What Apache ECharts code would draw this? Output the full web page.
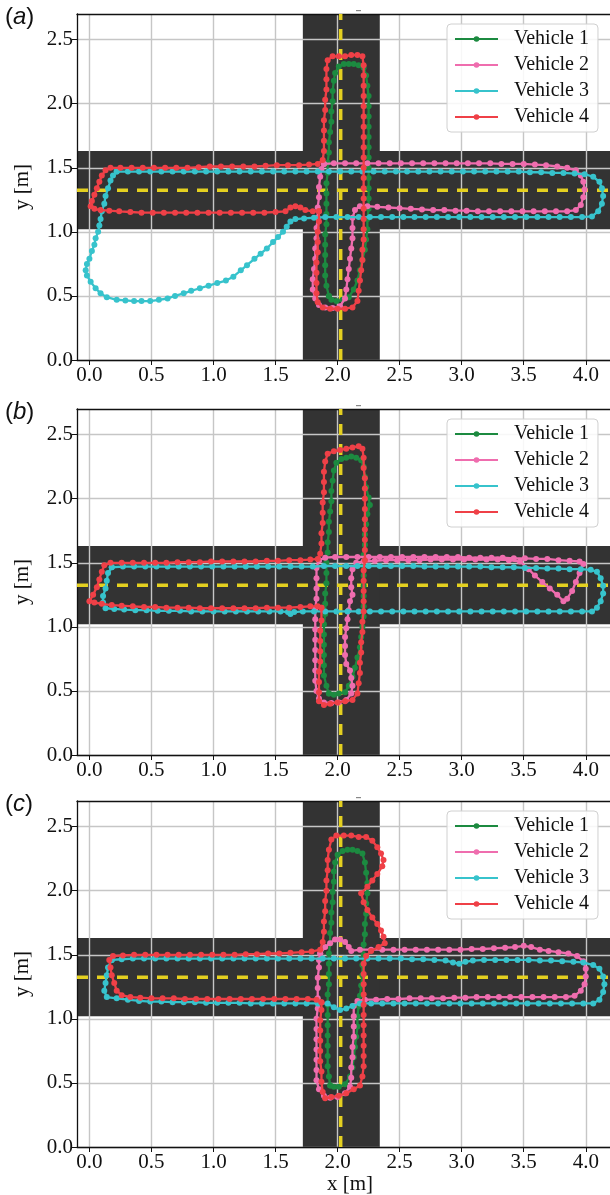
<!DOCTYPE html>
<html><head><meta charset="utf-8">
<script src="https://cdn.jsdelivr.net/npm/echarts@6/dist/echarts.min.js"></script>
<style>html,body{margin:0;padding:0;background:#fff}#c{width:610px;height:1195px}</style>
</head><body><div id="c"></div>
<script>
// ---------- axis ticks / road geometry ----------
const xTicks = [0, 0.5, 1.0, 1.5, 2.0, 2.5, 3.0, 3.5, 4.0];
const yTicks = [0, 0.5, 1.0, 1.5, 2.0, 2.5];
const roadHorizontalY = [1.02, 1.63];
const roadVerticalX = [1.72, 2.34];
const laneCenterY = 1.325;
const laneCenterX = 2.025;
const vehicleNames = ['Vehicle 1', 'Vehicle 2', 'Vehicle 3', 'Vehicle 4'];
const panelLetters = ['a', 'b', 'c'];

// ---------- panel (a) ----------
const v1a = [[1.93,0.50],[1.91,0.58],[1.90,0.66],[1.90,0.74],[1.90,0.82],[1.90,0.90],[1.90,0.98],[1.91,1.06],[1.91,1.14],[1.91,1.22],[1.91,1.30],[1.91,1.38],[1.92,1.46],[1.92,1.54],[1.93,1.62],[1.93,1.70],[1.94,1.78],[1.95,1.86],[1.95,1.94],[1.96,2.02],[1.96,2.10],[1.97,2.18],[1.98,2.24],[2.01,2.29],[2.05,2.31],[2.09,2.31],[2.13,2.31],[2.17,2.30],[2.21,2.28],[2.23,2.22],[2.24,2.14],[2.25,2.06],[2.25,1.98],[2.25,1.90],[2.25,1.82],[2.25,1.74],[2.25,1.66],[2.25,1.58],[2.25,1.50],[2.25,1.42],[2.25,1.34],[2.25,1.26],[2.25,1.18],[2.24,1.10],[2.24,1.02],[2.23,0.94],[2.22,0.86],[2.20,0.78],[2.18,0.70],[2.16,0.62],[2.13,0.55],[2.09,0.49],[2.04,0.47],[1.99,0.46],[1.95,0.47],[1.93,0.50]];
const v2a = [[1.89,1.53],[1.97,1.535],[2.06,1.535],[2.15,1.535],[2.24,1.535],[2.33,1.535],[2.42,1.535],[2.51,1.535],[2.60,1.535],[2.69,1.535],[2.78,1.535],[2.87,1.535],[2.96,1.535],[3.05,1.535],[3.14,1.535],[3.23,1.535],[3.32,1.53],[3.41,1.53],[3.50,1.53],[3.59,1.525],[3.68,1.52],[3.77,1.51],[3.85,1.50],[3.92,1.48],[3.96,1.44],[3.98,1.39],[3.99,1.33],[3.98,1.27],[3.96,1.21],[3.92,1.17],[3.85,1.16],[3.76,1.16],[3.67,1.16],[3.58,1.16],[3.49,1.16],[3.40,1.16],[3.31,1.16],[3.22,1.16],[3.13,1.16],[3.04,1.165],[2.95,1.165],[2.86,1.17],[2.77,1.17],[2.68,1.175],[2.59,1.18],[2.50,1.185],[2.41,1.19],[2.32,1.195],[2.24,1.20],[2.18,1.20],[2.14,1.17],[2.12,1.11],[2.12,1.03],[2.12,0.95],[2.11,0.87],[2.10,0.79],[2.09,0.71],[2.08,0.63],[2.07,0.55],[2.06,0.48],[2.02,0.42],[1.96,0.405],[1.90,0.41],[1.85,0.43],[1.82,0.48],[1.80,0.55],[1.80,0.63],[1.81,0.71],[1.82,0.79],[1.82,0.87],[1.83,0.95],[1.83,1.03],[1.84,1.11],[1.84,1.19],[1.85,1.27],[1.85,1.35],[1.86,1.43],[1.87,1.49],[1.89,1.53]];
const v3a = [[0.22,1.47],[0.31,1.47],[0.40,1.47],[0.49,1.47],[0.58,1.47],[0.67,1.47],[0.76,1.47],[0.85,1.47],[0.94,1.47],[1.03,1.47],[1.12,1.47],[1.21,1.47],[1.30,1.47],[1.39,1.47],[1.48,1.47],[1.57,1.47],[1.66,1.47],[1.75,1.47],[1.84,1.47],[1.93,1.47],[2.02,1.47],[2.11,1.47],[2.20,1.47],[2.29,1.47],[2.38,1.47],[2.47,1.47],[2.56,1.47],[2.65,1.47],[2.74,1.47],[2.83,1.47],[2.92,1.47],[3.01,1.47],[3.10,1.47],[3.19,1.47],[3.28,1.47],[3.37,1.47],[3.46,1.47],[3.55,1.465],[3.64,1.465],[3.73,1.46],[3.82,1.46],[3.91,1.455],[3.99,1.45],[4.06,1.43],[4.11,1.39],[4.13,1.34],[4.14,1.28],[4.13,1.22],[4.10,1.16],[4.05,1.12],[3.97,1.115],[3.88,1.115],[3.79,1.115],[3.70,1.115],[3.61,1.115],[3.52,1.115],[3.43,1.115],[3.34,1.115],[3.25,1.115],[3.16,1.115],[3.07,1.115],[2.98,1.115],[2.89,1.115],[2.80,1.115],[2.71,1.115],[2.62,1.115],[2.53,1.115],[2.44,1.115],[2.35,1.115],[2.26,1.115],[2.17,1.115],[2.08,1.115],[1.99,1.115],[1.90,1.115],[1.81,1.11],[1.73,1.105],[1.66,1.10],[1.62,1.08],[1.59,1.04],[1.56,1.00],[1.52,0.96],[1.48,0.92],[1.43,0.87],[1.38,0.83],[1.33,0.79],[1.27,0.74],[1.22,0.70],[1.16,0.65],[1.10,0.62],[1.03,0.60],[0.96,0.58],[0.89,0.56],[0.82,0.54],[0.76,0.52],[0.69,0.50],[0.63,0.48],[0.56,0.47],[0.49,0.46],[0.42,0.46],[0.36,0.46],[0.29,0.465],[0.22,0.47],[0.14,0.49],[0.09,0.52],[0.05,0.56],[0.01,0.61],[-0.02,0.66],[-0.03,0.70],[-0.02,0.75],[0.00,0.79],[0.02,0.85],[0.04,0.90],[0.05,0.95],[0.07,1.00],[0.08,1.05],[0.09,1.10],[0.10,1.16],[0.12,1.22],[0.13,1.28],[0.15,1.34],[0.17,1.40],[0.19,1.44],[0.22,1.47]];
const v4a = [[1.85,1.16],[1.80,1.16],[1.74,1.17],[1.70,1.19],[1.66,1.20],[1.62,1.19],[1.58,1.16],[1.50,1.155],[1.41,1.15],[1.32,1.15],[1.23,1.15],[1.14,1.15],[1.05,1.15],[0.96,1.15],[0.87,1.15],[0.78,1.15],[0.69,1.15],[0.60,1.15],[0.51,1.15],[0.42,1.15],[0.33,1.155],[0.24,1.16],[0.16,1.165],[0.09,1.17],[0.04,1.18],[0.01,1.20],[0.02,1.24],[0.04,1.29],[0.06,1.34],[0.08,1.39],[0.10,1.44],[0.13,1.48],[0.17,1.50],[0.25,1.50],[0.34,1.50],[0.43,1.50],[0.52,1.50],[0.61,1.50],[0.70,1.50],[0.79,1.50],[0.88,1.505],[0.97,1.51],[1.06,1.51],[1.15,1.51],[1.24,1.51],[1.33,1.51],[1.42,1.515],[1.51,1.52],[1.60,1.52],[1.69,1.52],[1.77,1.525],[1.84,1.53],[1.88,1.56],[1.89,1.63],[1.89,1.71],[1.89,1.79],[1.89,1.87],[1.90,1.95],[1.90,2.03],[1.91,2.11],[1.91,2.19],[1.91,2.27],[1.92,2.34],[1.96,2.37],[2.01,2.37],[2.06,2.37],[2.11,2.38],[2.16,2.38],[2.20,2.37],[2.21,2.30],[2.21,2.22],[2.21,2.14],[2.21,2.06],[2.21,1.98],[2.21,1.90],[2.21,1.82],[2.21,1.74],[2.21,1.66],[2.21,1.58],[2.21,1.50],[2.21,1.42],[2.21,1.34],[2.21,1.26],[2.21,1.18],[2.21,1.10],[2.21,1.02],[2.21,0.94],[2.20,0.86],[2.20,0.78],[2.19,0.70],[2.18,0.62],[2.17,0.54],[2.16,0.46],[2.12,0.41],[2.06,0.40],[2.00,0.40],[1.94,0.40],[1.88,0.41],[1.84,0.45],[1.83,0.52],[1.83,0.60],[1.83,0.68],[1.83,0.76],[1.84,0.84],[1.84,0.92],[1.84,1.00],[1.85,1.08],[1.85,1.16]];

// ---------- panel (b) ----------
const v1b = [[1.93,0.48],[1.91,0.54],[1.89,0.62],[1.89,0.70],[1.89,0.78],[1.89,0.86],[1.89,0.94],[1.89,1.02],[1.90,1.10],[1.90,1.18],[1.90,1.26],[1.91,1.34],[1.91,1.42],[1.91,1.50],[1.92,1.58],[1.92,1.66],[1.93,1.74],[1.93,1.82],[1.94,1.90],[1.95,1.98],[1.95,2.06],[1.96,2.14],[1.97,2.22],[1.99,2.28],[2.03,2.31],[2.07,2.32],[2.11,2.33],[2.15,2.32],[2.19,2.30],[2.21,2.25],[2.22,2.17],[2.23,2.09],[2.25,2.01],[2.26,1.95],[2.24,1.88],[2.23,1.80],[2.22,1.72],[2.22,1.64],[2.21,1.56],[2.21,1.48],[2.21,1.40],[2.21,1.32],[2.21,1.24],[2.21,1.16],[2.21,1.08],[2.20,1.00],[2.19,0.92],[2.18,0.84],[2.16,0.76],[2.14,0.68],[2.12,0.61],[2.09,0.54],[2.06,0.49],[2.01,0.48],[1.97,0.47],[1.93,0.48]];
const v2b = [[1.85,1.52],[1.90,1.54],[1.98,1.545],[2.07,1.545],[2.16,1.545],[2.25,1.545],[2.34,1.545],[2.43,1.545],[2.52,1.545],[2.61,1.545],[2.70,1.545],[2.79,1.545],[2.88,1.545],[2.97,1.545],[3.06,1.54],[3.15,1.54],[3.24,1.54],[3.33,1.54],[3.42,1.535],[3.51,1.535],[3.60,1.53],[3.69,1.53],[3.78,1.52],[3.87,1.515],[3.95,1.51],[3.98,1.49],[3.95,1.42],[3.92,1.35],[3.89,1.28],[3.85,1.22],[3.82,1.20],[3.77,1.25],[3.71,1.30],[3.65,1.35],[3.59,1.40],[3.54,1.45],[3.47,1.51],[3.38,1.52],[3.29,1.525],[3.20,1.525],[3.11,1.525],[3.02,1.525],[2.93,1.525],[2.84,1.525],[2.75,1.525],[2.66,1.52],[2.57,1.52],[2.48,1.52],[2.39,1.52],[2.30,1.515],[2.21,1.51],[2.15,1.50],[2.12,1.45],[2.11,1.38],[2.11,1.31],[2.12,1.25],[2.10,1.20],[2.09,1.13],[2.08,1.06],[2.07,0.99],[2.06,0.92],[2.06,0.85],[2.06,0.78],[2.07,0.71],[2.10,0.66],[2.11,0.60],[2.12,0.54],[2.11,0.48],[2.07,0.43],[2.01,0.41],[1.95,0.405],[1.89,0.41],[1.85,0.44],[1.83,0.50],[1.82,0.58],[1.82,0.66],[1.82,0.74],[1.82,0.82],[1.82,0.90],[1.82,0.98],[1.82,1.06],[1.82,1.14],[1.83,1.22],[1.83,1.30],[1.83,1.38],[1.83,1.46],[1.85,1.52]];
const v3b = [[0.18,1.465],[0.27,1.47],[0.36,1.47],[0.45,1.47],[0.54,1.47],[0.63,1.47],[0.72,1.47],[0.81,1.47],[0.90,1.47],[0.99,1.47],[1.08,1.47],[1.17,1.47],[1.26,1.47],[1.35,1.47],[1.44,1.47],[1.53,1.47],[1.62,1.47],[1.71,1.47],[1.80,1.47],[1.89,1.475],[1.98,1.475],[2.07,1.475],[2.16,1.475],[2.25,1.475],[2.34,1.475],[2.43,1.475],[2.52,1.475],[2.61,1.475],[2.70,1.47],[2.79,1.47],[2.88,1.47],[2.97,1.47],[3.06,1.47],[3.15,1.47],[3.24,1.465],[3.33,1.465],[3.42,1.465],[3.51,1.46],[3.60,1.46],[3.69,1.455],[3.78,1.455],[3.87,1.45],[3.96,1.45],[4.04,1.445],[4.09,1.43],[4.12,1.38],[4.14,1.32],[4.14,1.26],[4.12,1.20],[4.09,1.15],[4.05,1.12],[3.97,1.12],[3.88,1.12],[3.79,1.12],[3.70,1.12],[3.61,1.12],[3.52,1.12],[3.43,1.12],[3.34,1.12],[3.25,1.12],[3.16,1.12],[3.07,1.12],[2.98,1.12],[2.89,1.12],[2.80,1.12],[2.71,1.12],[2.62,1.12],[2.53,1.12],[2.44,1.12],[2.35,1.12],[2.26,1.12],[2.17,1.12],[2.08,1.12],[1.99,1.12],[1.90,1.12],[1.81,1.12],[1.72,1.12],[1.65,1.115],[1.62,1.10],[1.60,1.115],[1.54,1.12],[1.45,1.12],[1.36,1.12],[1.27,1.12],[1.18,1.12],[1.09,1.12],[1.00,1.12],[0.91,1.12],[0.82,1.12],[0.73,1.125],[0.64,1.125],[0.55,1.125],[0.46,1.13],[0.37,1.13],[0.28,1.135],[0.20,1.14],[0.13,1.145],[0.11,1.19],[0.11,1.24],[0.13,1.30],[0.14,1.36],[0.15,1.42],[0.18,1.465]];
const v4b = [[1.87,1.15],[1.84,1.16],[1.78,1.16],[1.70,1.155],[1.61,1.15],[1.52,1.15],[1.43,1.15],[1.34,1.145],[1.25,1.145],[1.16,1.145],[1.07,1.145],[0.98,1.145],[0.89,1.145],[0.80,1.15],[0.71,1.15],[0.62,1.15],[0.53,1.155],[0.44,1.155],[0.35,1.16],[0.26,1.165],[0.18,1.17],[0.10,1.18],[0.04,1.19],[0.00,1.20],[0.03,1.25],[0.06,1.31],[0.08,1.37],[0.10,1.43],[0.12,1.48],[0.17,1.50],[0.26,1.50],[0.35,1.50],[0.44,1.50],[0.53,1.50],[0.62,1.50],[0.71,1.505],[0.80,1.505],[0.89,1.505],[0.98,1.51],[1.07,1.51],[1.16,1.51],[1.25,1.51],[1.34,1.51],[1.43,1.515],[1.52,1.515],[1.61,1.52],[1.70,1.52],[1.78,1.525],[1.84,1.53],[1.86,1.57],[1.87,1.65],[1.87,1.73],[1.88,1.81],[1.88,1.89],[1.88,1.97],[1.89,2.05],[1.89,2.13],[1.89,2.21],[1.90,2.29],[1.92,2.35],[1.97,2.37],[2.02,2.38],[2.07,2.39],[2.12,2.40],[2.17,2.41],[2.20,2.39],[2.21,2.32],[2.21,2.24],[2.22,2.16],[2.22,2.08],[2.22,2.00],[2.22,1.92],[2.22,1.84],[2.22,1.76],[2.22,1.68],[2.22,1.60],[2.22,1.52],[2.21,1.44],[2.21,1.36],[2.21,1.28],[2.21,1.20],[2.21,1.12],[2.20,1.04],[2.20,0.96],[2.19,0.88],[2.19,0.80],[2.18,0.72],[2.18,0.64],[2.17,0.56],[2.16,0.48],[2.12,0.43],[2.06,0.42],[2.00,0.41],[1.94,0.40],[1.89,0.39],[1.85,0.42],[1.85,0.49],[1.85,0.57],[1.85,0.65],[1.86,0.73],[1.86,0.81],[1.86,0.89],[1.86,0.97],[1.87,1.05],[1.87,1.15]];

// ---------- panel (c) ----------
const v1c = [[1.94,0.48],[1.93,0.55],[1.92,0.63],[1.92,0.71],[1.92,0.79],[1.92,0.87],[1.92,0.95],[1.92,1.03],[1.92,1.11],[1.92,1.19],[1.93,1.27],[1.93,1.35],[1.93,1.43],[1.93,1.51],[1.94,1.59],[1.94,1.67],[1.95,1.75],[1.95,1.83],[1.96,1.91],[1.96,1.99],[1.97,2.07],[1.97,2.15],[1.98,2.22],[2.00,2.28],[2.04,2.31],[2.08,2.32],[2.12,2.32],[2.16,2.31],[2.20,2.29],[2.22,2.22],[2.23,2.14],[2.24,2.06],[2.24,1.98],[2.23,1.90],[2.23,1.82],[2.22,1.74],[2.22,1.66],[2.21,1.58],[2.21,1.50],[2.20,1.42],[2.20,1.34],[2.19,1.26],[2.18,1.18],[2.17,1.10],[2.16,1.02],[2.16,0.94],[2.15,0.86],[2.14,0.78],[2.13,0.70],[2.12,0.62],[2.10,0.55],[2.06,0.49],[2.01,0.47],[1.97,0.47],[1.94,0.48]];
const v2c = [[1.86,1.51],[1.90,1.56],[1.94,1.59],[1.98,1.62],[2.02,1.62],[2.06,1.60],[2.09,1.56],[2.11,1.53],[2.18,1.54],[2.27,1.54],[2.36,1.54],[2.45,1.54],[2.54,1.54],[2.63,1.54],[2.72,1.54],[2.81,1.54],[2.90,1.54],[2.99,1.54],[3.08,1.545],[3.17,1.545],[3.26,1.55],[3.35,1.555],[3.43,1.56],[3.50,1.57],[3.56,1.56],[3.63,1.54],[3.70,1.53],[3.78,1.52],[3.86,1.51],[3.93,1.49],[3.98,1.45],[4.00,1.39],[4.00,1.33],[3.99,1.27],[3.96,1.22],[3.91,1.18],[3.84,1.17],[3.75,1.17],[3.66,1.17],[3.57,1.17],[3.48,1.17],[3.39,1.17],[3.30,1.17],[3.21,1.17],[3.12,1.17],[3.03,1.165],[2.94,1.165],[2.85,1.16],[2.76,1.16],[2.67,1.16],[2.58,1.16],[2.49,1.155],[2.40,1.155],[2.31,1.15],[2.22,1.15],[2.16,1.14],[2.13,1.10],[2.13,1.02],[2.13,0.94],[2.13,0.86],[2.12,0.78],[2.12,0.70],[2.11,0.62],[2.11,0.54],[2.10,0.47],[2.06,0.42],[2.00,0.39],[1.94,0.385],[1.89,0.40],[1.85,0.45],[1.83,0.52],[1.83,0.60],[1.83,0.68],[1.83,0.76],[1.83,0.84],[1.83,0.92],[1.83,1.00],[1.84,1.08],[1.84,1.16],[1.84,1.24],[1.84,1.32],[1.85,1.40],[1.85,1.46],[1.86,1.51]];
const v3c = [[0.18,1.46],[0.26,1.465],[0.35,1.47],[0.44,1.47],[0.53,1.47],[0.62,1.47],[0.71,1.47],[0.80,1.47],[0.89,1.47],[0.98,1.47],[1.07,1.47],[1.16,1.47],[1.25,1.47],[1.34,1.47],[1.43,1.47],[1.52,1.47],[1.61,1.47],[1.70,1.47],[1.79,1.47],[1.88,1.47],[1.97,1.47],[2.06,1.47],[2.15,1.47],[2.24,1.47],[2.33,1.47],[2.42,1.47],[2.51,1.47],[2.60,1.465],[2.69,1.465],[2.78,1.46],[2.87,1.455],[2.93,1.44],[2.98,1.43],[3.03,1.445],[3.09,1.455],[3.18,1.46],[3.27,1.46],[3.36,1.46],[3.45,1.46],[3.54,1.46],[3.63,1.455],[3.72,1.455],[3.81,1.45],[3.90,1.445],[3.98,1.44],[4.06,1.42],[4.11,1.39],[4.14,1.33],[4.15,1.27],[4.14,1.21],[4.11,1.15],[4.06,1.12],[3.98,1.12],[3.89,1.12],[3.80,1.12],[3.71,1.12],[3.62,1.12],[3.53,1.12],[3.44,1.12],[3.35,1.12],[3.26,1.12],[3.17,1.12],[3.08,1.12],[2.99,1.12],[2.90,1.12],[2.81,1.12],[2.72,1.12],[2.63,1.12],[2.54,1.12],[2.45,1.12],[2.36,1.12],[2.27,1.12],[2.18,1.12],[2.12,1.10],[2.07,1.08],[2.02,1.07],[1.97,1.09],[1.92,1.12],[1.84,1.12],[1.75,1.12],[1.66,1.12],[1.57,1.12],[1.48,1.12],[1.39,1.12],[1.30,1.12],[1.21,1.125],[1.12,1.125],[1.03,1.125],[0.94,1.125],[0.85,1.13],[0.76,1.13],[0.67,1.13],[0.58,1.135],[0.49,1.135],[0.40,1.14],[0.31,1.15],[0.22,1.16],[0.14,1.17],[0.12,1.22],[0.13,1.28],[0.14,1.34],[0.15,1.40],[0.18,1.46]];
const v4c = [[1.87,1.13],[1.83,1.15],[1.76,1.155],[1.67,1.155],[1.58,1.155],[1.49,1.155],[1.40,1.155],[1.31,1.155],[1.22,1.155],[1.13,1.155],[1.04,1.155],[0.95,1.155],[0.86,1.155],[0.77,1.155],[0.68,1.16],[0.59,1.16],[0.50,1.16],[0.41,1.165],[0.33,1.17],[0.26,1.185],[0.22,1.22],[0.20,1.28],[0.18,1.34],[0.17,1.40],[0.16,1.46],[0.19,1.49],[0.27,1.495],[0.36,1.50],[0.45,1.50],[0.54,1.50],[0.63,1.50],[0.72,1.50],[0.81,1.50],[0.90,1.50],[0.99,1.50],[1.08,1.50],[1.17,1.50],[1.26,1.505],[1.35,1.505],[1.44,1.51],[1.53,1.51],[1.62,1.515],[1.71,1.52],[1.79,1.525],[1.86,1.54],[1.88,1.60],[1.89,1.68],[1.89,1.76],[1.90,1.84],[1.90,1.92],[1.91,2.00],[1.91,2.08],[1.92,2.16],[1.92,2.24],[1.93,2.32],[1.95,2.40],[1.99,2.43],[2.05,2.43],[2.11,2.43],[2.17,2.42],[2.23,2.42],[2.28,2.39],[2.32,2.34],[2.35,2.29],[2.37,2.24],[2.36,2.19],[2.32,2.13],[2.28,2.08],[2.24,2.03],[2.19,1.98],[2.21,1.91],[2.24,1.85],[2.28,1.79],[2.32,1.74],[2.35,1.69],[2.37,1.64],[2.38,1.59],[2.33,1.56],[2.27,1.53],[2.23,1.49],[2.21,1.43],[2.21,1.35],[2.21,1.27],[2.21,1.19],[2.21,1.11],[2.21,1.03],[2.21,0.95],[2.21,0.87],[2.21,0.79],[2.21,0.71],[2.21,0.63],[2.20,0.55],[2.18,0.48],[2.13,0.45],[2.07,0.42],[2.01,0.40],[1.95,0.39],[1.90,0.38],[1.88,0.43],[1.87,0.51],[1.87,0.59],[1.86,0.67],[1.86,0.75],[1.86,0.83],[1.86,0.91],[1.86,0.99],[1.87,1.07],[1.87,1.13]];

const panelSeries = [[v1a, v2a, v3a, v4a], [v1b, v2b, v3b, v4b], [v1c, v2c, v3c, v4c]];

// ---------- styling / layout ----------
const COLORS = ['#1c8a40', '#ef6dae', '#37c3cc', '#ef4047'];
const ROAD = '#333333';
const LANE = '#e4d020';
const GRIDC = '#c6c6c6';
const SERIF = "'Liberation Serif', 'Times New Roman', Times, 'DejaVu Serif', serif";
const SANS = "'Liberation Sans', Arial, Helvetica, sans-serif";
const PANEL_TOPS = [14, 409, 801];
const PANEL_H = 346;
const X_MIN = -0.1, X_MAX = 4.3, Y_MIN = 0, Y_MAX = 2.7;

const grid = [], xAxis = [], yAxis = [], series = [], legend = [], graphic = [];

PANEL_TOPS.forEach((top, i) => {
  grid.push({left: 77, top: top, width: 546, height: PANEL_H, containLabel: false, outerBoundsMode: 'none'});
  const isLast = i === PANEL_TOPS.length - 1;
  xAxis.push({
    gridIndex: i, type: 'value', min: X_MIN, max: X_MAX, z: 2,
    axisLine: {show: true, onZero: false, lineStyle: {color: '#111', width: 1.3}},
    axisTick: {show: true, length: 5, customValues: xTicks, lineStyle: {color: '#111', width: 1}},
    axisLabel: {customValues: xTicks, formatter: v => v.toFixed(1), fontFamily: SERIF, fontSize: 21, color: '#111', margin: 5},
    splitLine: {show: true, lineStyle: {color: GRIDC, width: 1.4}},
    name: isLast ? 'x [m]' : '', nameLocation: 'middle', nameGap: 22,
    nameTextStyle: {fontFamily: SERIF, fontSize: 21, color: '#111'}
  });
  xAxis.push({
    gridIndex: i, type: 'value', position: 'top', min: X_MIN, max: X_MAX, z: 2,
    axisLine: {show: true, onZero: false, lineStyle: {color: '#111', width: 1.3}},
    axisTick: {show: false}, axisLabel: {show: false}, splitLine: {show: false}
  });
  yAxis.push({
    gridIndex: i, type: 'value', min: Y_MIN, max: Y_MAX, z: 2,
    axisLine: {show: true, onZero: false, lineStyle: {color: '#111', width: 1.3}},
    axisTick: {show: true, length: 5, customValues: yTicks, lineStyle: {color: '#111', width: 1}},
    axisLabel: {customValues: yTicks, formatter: v => v.toFixed(1), fontFamily: SERIF, fontSize: 21, color: '#111', margin: 4},
    splitLine: {show: true, lineStyle: {color: GRIDC, width: 1.4}},
    name: 'y [m]', nameLocation: 'middle', nameGap: 44, nameRotate: 90,
    nameTextStyle: {fontFamily: SERIF, fontSize: 21, color: '#111'}
  });
  const xi = 2 * i;
  // road bands
  series.push({
    type: 'custom', xAxisIndex: xi, yAxisIndex: i, z: 1, silent: true, animation: false,
    encode: {x: 0, y: 1},
    data: [[0, roadHorizontalY[0], roadHorizontalY[1]], [1, roadVerticalX[0], roadVerticalX[1]]],
    renderItem: (params, api) => {
      const cs = params.coordSys;
      const kind = api.value(0), a = api.value(1), b = api.value(2);
      if (kind === 0) {
        const p0 = api.coord([0, a]), p1 = api.coord([0, b]);
        return {type: 'rect', shape: {x: cs.x, y: p1[1], width: cs.width, height: p0[1] - p1[1]}, style: {fill: ROAD}};
      }
      const q0 = api.coord([a, 0]), q1 = api.coord([b, 0]);
      return {type: 'rect', shape: {x: q0[0], y: cs.y, width: q1[0] - q0[0], height: cs.height}, style: {fill: ROAD}};
    }
  });
  // lane centre dashed lines
  series.push({
    type: 'line', xAxisIndex: xi, yAxisIndex: i, z: 3, silent: true, symbol: 'none', animation: false,
    data: [[X_MIN, laneCenterY], [X_MAX, laneCenterY]],
    lineStyle: {color: LANE, width: 3.5, type: [11, 9]}
  });
  series.push({
    type: 'line', xAxisIndex: xi, yAxisIndex: i, z: 3, silent: true, symbol: 'none', animation: false,
    data: [[laneCenterX, Y_MIN], [laneCenterX, Y_MAX]],
    lineStyle: {color: LANE, width: 3.5, type: [11, 9]}
  });
  // vehicles
  panelSeries[i].forEach((pts, k) => {
    series.push({
      name: vehicleNames[k], type: 'line', xAxisIndex: xi, yAxisIndex: i, z: 4 + k * 0.1,
      data: pts, symbol: 'circle', symbolSize: 6, showSymbol: true, animation: false,
      lineStyle: {color: COLORS[k], width: 2.3}, itemStyle: {color: COLORS[k]}
    });
  });
  legend.push({
    data: vehicleNames, orient: 'vertical', left: 447, top: top + 10, z: 10,
    selectedMode: false, itemWidth: 43, itemHeight: 7, itemGap: 6,
    backgroundColor: 'rgba(255,255,255,0.85)', borderColor: '#d0d0d0', borderWidth: 1, borderRadius: 4,
    padding: [5, 9, 5, 7],
    textStyle: {fontFamily: SERIF, fontSize: 20, color: '#111', padding: [0, 0, 0, 11]}
  });
  graphic.push({
    type: 'text', left: 5, top: top - 9, z: 20,
    style: {
      text: '{n|(}{i|' + panelLetters[i] + '}{n|)}',
      rich: {
        n: {fontFamily: SANS, fontSize: 24, fill: '#111'},
        i: {fontFamily: SANS, fontSize: 24, fontStyle: 'italic', fill: '#111'}
      }
    }
  });
  graphic.push({type: 'rect', left: 356, top: top - 4, z: 20, shape: {width: 5, height: 1.2}, style: {fill: '#888'}});
});

const chart = echarts.init(document.getElementById('c'), null, {renderer: 'canvas'});
chart.setOption({
  backgroundColor: '#fff', animation: false,
  grid, xAxis, yAxis, series, legend, graphic
});
</script></body></html>
